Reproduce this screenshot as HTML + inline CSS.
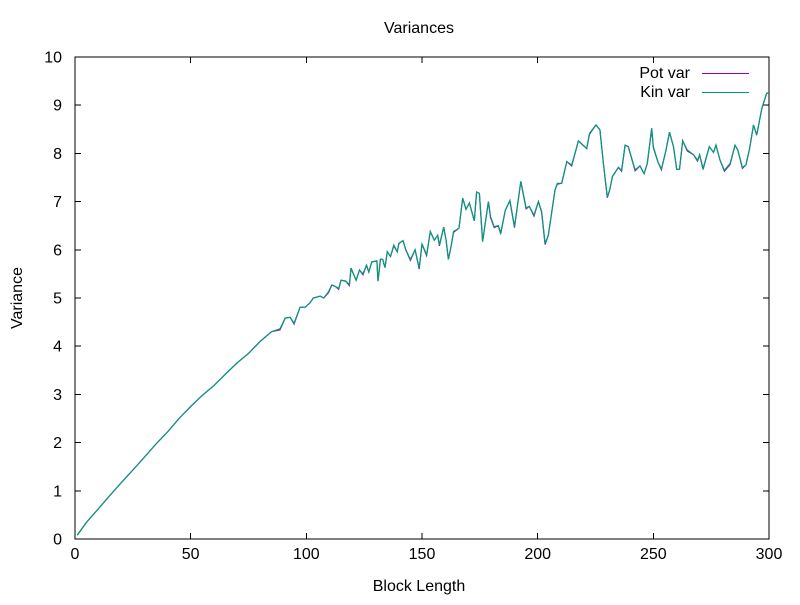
<!DOCTYPE html>
<html><head><meta charset="utf-8"><style>
body{margin:0;background:#fff}
svg text{font-family:"Liberation Sans",sans-serif;font-size:16px;fill:#000}
</style></head><body>
<svg width="800" height="600" id="c">
<rect width="800" height="600" fill="#fff"/>
<text x="419" y="33" text-anchor="middle">Variances</text>
<text x="419" y="591" text-anchor="middle">Block Length</text>
<text transform="translate(22,298) rotate(-90)" text-anchor="middle">Variance</text>
<g id="ax" shape-rendering="crispEdges"></g>
<g id="series"></g>
<g shape-rendering="crispEdges">
<text x="690" y="78" text-anchor="end">Pot var</text>
<line x1="702" y1="73.5" x2="749" y2="73.5" stroke="#9400d3"/>
<text x="690" y="97" text-anchor="end">Kin var</text>
<line x1="702" y1="92.5" x2="749" y2="92.5" stroke="#009e73"/>
</g>
</svg>
<script>
const blockLengths=[1,5,10,15,20,25,30,35,40,45,50,55,60,65,70,75,80,85,88.6,90.8,93,94.7,97.3,99.5,101.6,103,106,107.5,109.6,111,112.5,114,115,117,118.6,119.3,121.5,123,124.5,126,127,128.3,130.5,131,132,133,134,135,136.4,137.8,139.3,140,141.8,143,145,147,148.8,150,152,153.6,155.3,156.8,157.5,159.4,160.4,161.4,162.6,163.6,166,167.6,169,170.5,172.6,173.6,174.8,176.2,178.7,179.6,181.2,183,184,186,188,190,192.7,195,196.4,198.4,200.3,201.7,203.2,204.6,207.5,208.5,210.4,212.6,214.7,217.6,221.2,222.4,225.2,226.9,228.4,230.1,231.2,232.3,234.9,236.3,237.8,239.2,242.1,244.2,246,247.4,249.3,250,252,253.5,255.3,257,258.7,260.1,261.3,262.7,264.7,267.4,269.1,270,271.5,274.2,276,277.1,278.8,280.7,283.2,285.3,286.5,288.5,290,291.6,293.3,294.7,296.9,299,300];
const kinVar=[0.08,0.35,0.62,0.9,1.17,1.43,1.7,1.97,2.22,2.5,2.75,2.98,3.18,3.42,3.65,3.85,4.1,4.3,4.36,4.58,4.6,4.48,4.81,4.81,4.9,5.0,5.04,5.0,5.13,5.27,5.24,5.2,5.37,5.35,5.28,5.62,5.37,5.58,5.5,5.68,5.54,5.75,5.77,5.35,5.8,5.8,5.63,5.96,5.86,6.1,5.96,6.13,6.19,6.0,5.8,6.0,5.62,6.12,5.9,6.38,6.2,6.3,6.1,6.47,6.2,5.8,6.07,6.38,6.45,7.07,6.84,6.97,6.6,7.2,7.17,6.17,7.0,6.69,6.48,6.5,6.35,6.82,7.02,6.48,7.42,6.87,6.9,6.72,7.0,6.8,6.13,6.3,7.24,7.38,7.38,7.83,7.76,8.26,8.1,8.42,8.59,8.49,7.79,7.1,7.25,7.52,7.71,7.65,8.17,8.14,7.66,7.74,7.58,7.79,8.52,8.14,7.82,7.68,8.03,8.44,8.14,7.67,7.67,8.26,8.07,7.97,7.86,7.97,7.69,8.14,8.02,8.17,7.86,7.65,7.79,8.17,8.07,7.71,7.76,8.1,8.59,8.38,8.93,9.25,9.25];
const potVar=[0.08,0.35,0.62,0.9,1.17,1.43,1.7,1.97,2.22,2.5,2.75,2.98,3.18,3.42,3.65,3.85,4.1,4.3,4.34,4.58,4.6,4.46,4.81,4.81,4.9,5.0,5.04,5.0,5.11,5.27,5.24,5.18,5.37,5.35,5.26,5.62,5.37,5.58,5.48,5.68,5.54,5.75,5.77,5.35,5.8,5.8,5.63,5.96,5.86,6.08,5.96,6.13,6.19,6.0,5.78,6.0,5.6,6.12,5.88,6.38,6.2,6.3,6.08,6.47,6.2,5.8,6.07,6.36,6.45,7.07,6.84,6.97,6.6,7.2,7.17,6.17,7.0,6.67,6.46,6.5,6.33,6.82,7.02,6.46,7.42,6.85,6.9,6.7,7.0,6.78,6.11,6.3,7.24,7.36,7.38,7.83,7.74,8.26,8.1,8.4,8.59,8.49,7.79,7.08,7.25,7.52,7.71,7.63,8.17,8.14,7.64,7.74,7.58,7.79,8.52,8.12,7.82,7.66,8.03,8.44,8.14,7.67,7.67,8.26,8.05,7.97,7.84,7.97,7.67,8.14,8.02,8.17,7.86,7.63,7.77,8.17,8.07,7.69,7.76,8.1,8.59,8.38,8.93,9.25,9.25];
const xTicks=[0,50,100,150,200,250,300];
const yTicks=[0,1,2,3,4,5,6,7,8,9,10];
const L=75,R=769,T=57,B=539;
const sx=v=>L+(v-0)/300*(R-L);
const sy=v=>B-(v-0)/10*(B-T);
const NS='http://www.w3.org/2000/svg';
const ax=document.getElementById('ax');
function mk(tag,attrs,parent){const e=document.createElementNS(NS,tag);for(const k in attrs)e.setAttribute(k,attrs[k]);parent.appendChild(e);return e;}
const frame=mk('rect',{x:L,y:T,width:R-L,height:B-T,fill:'none',stroke:'#000','stroke-width':1},ax);


xTicks.forEach(t=>{
 const x=sx(t);
 mk('line',{x1:x,y1:B,x2:x,y2:B-6,stroke:'#000'},ax);
 mk('line',{x1:x,y1:T,x2:x,y2:T+6,stroke:'#000'},ax);
 const tx=mk('text',{x:x,y:559,'text-anchor':'middle'},ax);
 tx.textContent=t;
 
 
});
yTicks.forEach(t=>{
 const y=sy(t);
 mk('line',{x1:L,y1:y,x2:L+6,y2:y,stroke:'#000'},ax);
 mk('line',{x1:R,y1:y,x2:R-6,y2:y,stroke:'#000'},ax);
 const tx=mk('text',{x:62,y:y+5.5,'text-anchor':'end'},ax);
 tx.textContent=t;
 
 
});
const g=document.getElementById('series');
function line(vals,color,name){
 const d=vals.map((v,i)=>(i?'L':'M')+sx(blockLengths[i]).toFixed(1)+','+sy(v).toFixed(1)).join('');
 const p=mk('path',{d:d,fill:'none',stroke:color,'stroke-width':1.2},g);
 
 
}
line(potVar,'#9400d3','pot-var-line');
line(kinVar,'#009e73','kin-var-line');
</script>
</body></html>
